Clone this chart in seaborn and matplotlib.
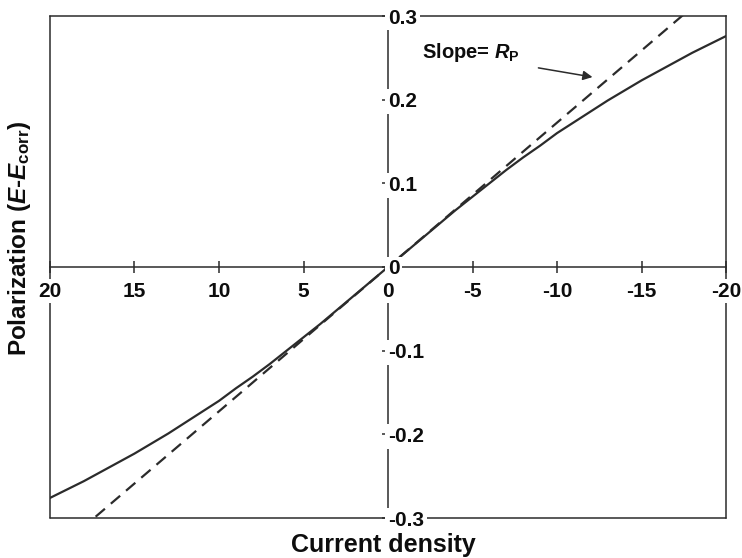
import matplotlib
matplotlib.use("Agg")
import matplotlib.pyplot as plt
import seaborn as sns
import pandas as pd

# ---- data ----
current = [20, 19, 18, 17, 16, 15, 14, 13, 12, 11, 10, 9, 8, 7, 6, 5, 4, 3, 2, 1, 0,
           -1, -2, -3, -4, -5, -6, -7, -8, -9, -10, -11, -12, -13, -14, -15, -16, -17, -18, -19, -20]
polarization = [-0.276, -0.266, -0.256, -0.245, -0.234, -0.223, -0.211, -0.199, -0.186, -0.173,
                -0.160, -0.145, -0.131, -0.116, -0.100, -0.084, -0.068, -0.051, -0.034, -0.017, 0.0,
                0.017, 0.034, 0.051, 0.068, 0.084, 0.100, 0.116, 0.131, 0.145, 0.160,
                0.173, 0.186, 0.199, 0.211, 0.223, 0.234, 0.245, 0.256, 0.266, 0.276]
tangent_current = [20, -20]
tangent_polarization = [-0.345, 0.345]

xticks = [20, 15, 10, 5, 0, -5, -10, -15, -20]
xtick_labels = ["20", "15", "10", "5", "0", "-5", "-10", "-15", "-20"]
yticks = [-0.3, -0.2, -0.1, 0.0, 0.1, 0.2, 0.3]
ytick_labels = ["-0.3", "-0.2", "-0.1", "0", "0.1", "0.2", "0.3"]

sns.set_style("white")
plt.rcParams["font.family"] = ["Liberation Sans", "DejaVu Sans"]
plt.rcParams["mathtext.fontset"] = "custom"
plt.rcParams["mathtext.rm"] = "Liberation Sans"
plt.rcParams["mathtext.bf"] = "Liberation Sans:bold"
plt.rcParams["mathtext.it"] = "Liberation Sans:italic"
plt.rcParams["mathtext.bfit"] = "Liberation Sans:italic:bold"

curve = pd.DataFrame({"current": current, "polarization": polarization})
tangent = pd.DataFrame({"current": tangent_current, "polarization": tangent_polarization})

fig = plt.figure(figsize=(7.42, 5.58), dpi=100)
ax = fig.add_axes([50 / 742, 1 - 518 / 558, 676 / 742, 502 / 558])

ink = "#2b2b2b"
txt = "#0d0d0d"
sns.lineplot(data=curve, x="current", y="polarization", ax=ax, color=ink,
             linewidth=1.6, sort=False, zorder=2)
sns.lineplot(data=tangent, x="current", y="polarization", ax=ax, color=ink,
             linewidth=1.6, linestyle=(0, (5.5, 3.5)), sort=False, zorder=2)

ax.set_xlim(20, -20)
ax.set_ylim(-0.3, 0.3)

# centred axes + outer box
ax.spines["left"].set_position(("data", 0))
ax.spines["bottom"].set_position(("data", 0))
for s in ax.spines.values():
    s.set_color(ink)
    s.set_linewidth(1.1)
    s.set_visible(True)
ax.axvline(20, color=ink, linewidth=1.1, clip_on=False, zorder=2.5)
ax.axhline(-0.3, color=ink, linewidth=1.1, clip_on=False, zorder=2.5)

ax.set_xticks(xticks)
ax.set_xticklabels(xtick_labels)
ax.set_yticks(yticks)
ax.set_yticklabels(ytick_labels)
ax.tick_params(axis="x", direction="inout", length=9, width=1.1, color=ink,
               pad=6, labelsize=15, labelcolor=txt, top=False, bottom=True)
ax.tick_params(axis="y", direction="inout", length=8, width=1.1, color=ink,
               pad=-4, labelsize=15, labelcolor=txt, right=False, left=True)
for lab in ax.get_xticklabels():
    lab.set_fontweight("bold")
    lab.set_bbox(dict(facecolor="white", edgecolor="none", pad=2))
for lab in ax.get_yticklabels():
    lab.set_fontweight("bold")
    lab.set_horizontalalignment("left")
    lab.set_bbox(dict(facecolor="white", edgecolor="none", pad=2))
ax.xaxis.set_zorder(5)
ax.yaxis.set_zorder(5)
ax.set_xlabel("")
ax.set_ylabel("")

# annotation
ax.text(-2.0, 0.256, r"Slope= $\mathbfit{R}_{\mathbf{P}}$", ha="left", va="center",
        fontsize=14.5, fontweight="bold", color=txt)
ax.annotate("", xy=(-12.1, 0.227), xytext=(-8.9, 0.238),
            arrowprops=dict(arrowstyle="-|>", color=ink, lw=1.1,
                            mutation_scale=14, shrinkA=0, shrinkB=0))

fig.text(383 / 742, 1 - 545 / 558, "Current density", ha="center", va="center",
         fontsize=18, fontweight="bold", color=txt)
fig.text(20 / 742, 1 - 238 / 558,
         r"Polarization ($\mathbfit{E}$-$\mathbfit{E}_{\mathbf{corr}}$)",
         rotation=90, ha="center", va="center", fontsize=17.5, fontweight="bold",
         color=txt)

fig.savefig("out.png", dpi=100, facecolor="white")
